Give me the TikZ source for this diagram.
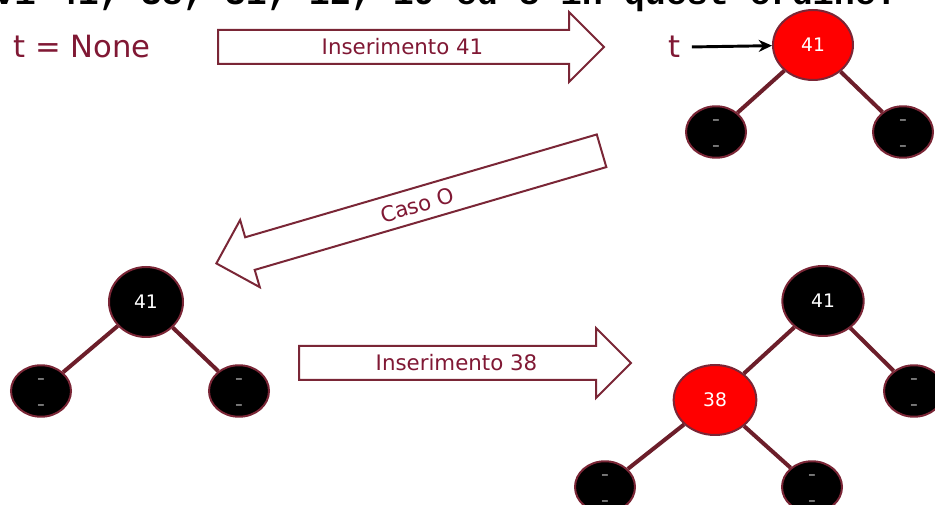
\documentclass[tikz,border=0pt]{standalone}
\usepackage{fontspec}
\setmainfont{DejaVu Sans}
\newfontfamily\monofont{Liberation Mono}
\usetikzlibrary{shapes.geometric,shapes.arrows,arrows.meta}
\definecolor{wine}{RGB}{128,24,52}
\definecolor{rim}{RGB}{122,38,54}
\definecolor{branch}{RGB}{108,30,42}
\tikzset{
  rbnode/.style={ellipse, draw=rim, line width=1.5pt, inner sep=0pt,
    minimum width=60pt, minimum height=52.5pt, text=white,
    font=\fontsize{14}{16}\selectfont},
  rednode/.style={rbnode, fill=red},
  blacknode/.style={rbnode, fill=black},
  leaf/.style={ellipse, draw=rim, fill=black, line width=1.5pt, inner sep=0pt,
    minimum width=45pt, minimum height=36pt, text=black!12, align=center,
    font=\fontsize{11}{19.5}\selectfont},
  link/.style={draw=branch, line width=3pt},
  bigarrow/.style={single arrow, draw=rim, line width=1.5pt, fill=white,
    text=wine, font=\fontsize{16}{19}\selectfont,
    single arrow head extend=13.5pt, text height=12pt, text depth=0pt,
    inner ysep=6pt, anchor=tail},
  txt/.style={inner sep=0pt, text=wine, font=\fontsize{23}{27}\selectfont}
}
\newcommand{\nilkey}{\rule{0pt}{7.8pt}–\\–}
\begin{document}
\begin{tikzpicture}[x=0.75pt,y=-0.75pt]
    \useasboundingbox (0,0) rectangle (935,505);
    \clip (0,0) rectangle (935,505);
    \node [inner sep=0pt, anchor=base west, font=\monofont\bfseries\fontsize{26.25}{30}\selectfont]
      (title) at (-90.5,5) {chiavi 41, 38, 31, 12, 19 ed 8 in quest'ordine.};
    % first step
    \node [txt, anchor=base west] (none) at (13,58) {t = None};
    \node [bigarrow, minimum height=289.5pt] (step1) at (217,47) {Inserimento 41};
    \node [txt, anchor=base] (T) at (675,58) {t};
    \node [rednode] (A0_0) at (813,45) {41};
    \node [leaf] (A1_0) at (716,132) {\nilkey};
    \node [leaf] (A1_1) at (903,132) {\nilkey};
    \path (A0_0) edge [link] (A1_0);
    \path (A0_0) edge [link] (A1_1);
    \draw [-{Stealth[length=10pt,width=9pt]}, line width=2.2pt, shorten <=8pt] (T) -- (A0_0);
    % recolour
    \node [bigarrow, minimum height=301pt, rotate=16.3, shape border rotate=180]
      (step2) at (602.5,150.5) {Caso O};
    \node [blacknode, minimum width=55.5pt] (B0_0) at (146,302) {41};
    \node [leaf] (B1_0) at (41,391) {\nilkey};
    \node [leaf] (B1_1) at (239,391) {\nilkey};
    \path (B0_0) edge [link] (B1_0);
    \path (B0_0) edge [link] (B1_1);
    % second insertion
    \node [bigarrow, minimum height=249pt] (step3) at (298,363) {Inserimento 38};
    \node [blacknode, minimum width=61pt] (C0_0) at (823,301) {41};
    \node [rednode, minimum width=62pt] (C1_0) at (715,400) {38};
    \node [leaf] (C1_1) at (914,391) {\nilkey};
    \node [leaf] (C2_0) at (605,487) {\nilkey};
    \node [leaf] (C2_1) at (812,487) {\nilkey};
    \path (C0_0) edge [link] (C1_0);
    \path (C0_0) edge [link] (C1_1);
    \path (C1_0) edge [link] (C2_0);
    \path (C1_0) edge [link] (C2_1);
  \end{tikzpicture}
\end{document}
